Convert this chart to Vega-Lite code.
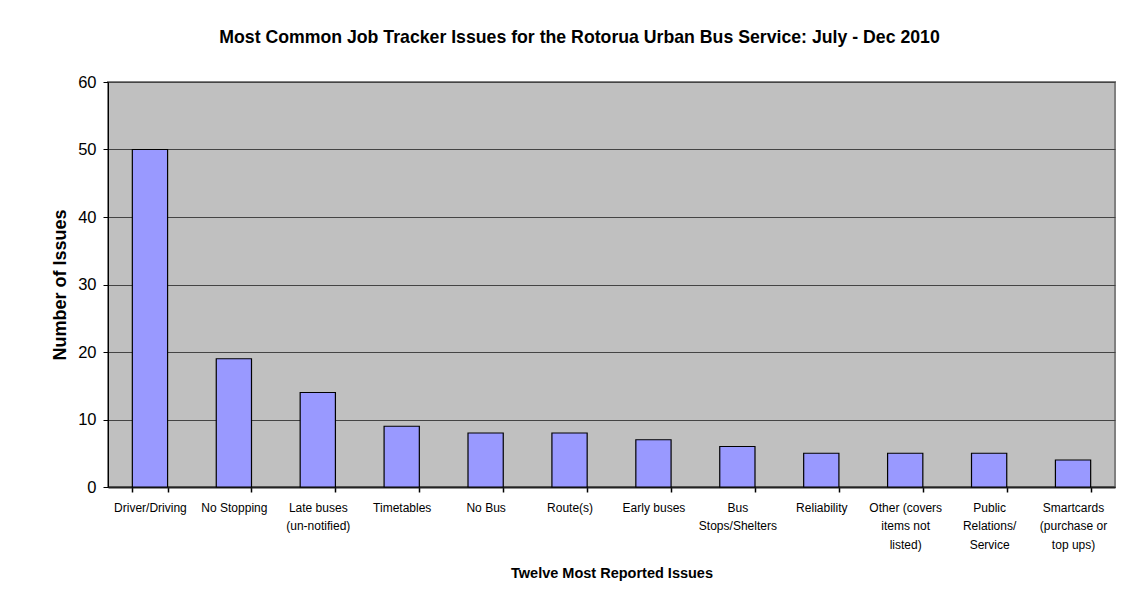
{
  "$schema": "https://vega.github.io/schema/vega-lite/v6.json",
  "autosize": {"type": "none"},
  "width": 1007,
  "height": 405,
  "padding": {"left": 108, "top": 82, "right": 28, "bottom": 106},
  "background": "white",
  "title": {
    "text": "Most Common Job Tracker Issues for the Rotorua Urban Bus Service: July - Dec 2010",
    "font": "Liberation Sans",
    "fontSize": 17.7,
    "fontWeight": "bold",
    "color": "black",
    "anchor": "middle",
    "frame": "group",
    "baseline": "alphabetic",
    "offset": 13,
    "dx": -32
  },
  "data": {
    "values": [
      {"issue": "Driver/Driving", "count": 50},
      {"issue": "No Stopping", "count": 19},
      {"issue": "Late buses\n(un-notified)", "count": 14},
      {"issue": "Timetables", "count": 9},
      {"issue": "No Bus", "count": 8},
      {"issue": "Route(s)", "count": 8},
      {"issue": "Early buses", "count": 7},
      {"issue": "Bus\nStops/Shelters", "count": 6},
      {"issue": "Reliability", "count": 5},
      {"issue": "Other (covers\nitems not\nlisted)", "count": 5},
      {"issue": "Public\nRelations/\nService", "count": 5},
      {"issue": "Smartcards\n(purchase or\ntop ups)", "count": 4}
    ]
  },
  "mark": {"type": "bar", "color": "#9999FF", "stroke": "black", "strokeWidth": 1.2},
  "encoding": {
    "x": {
      "field": "issue",
      "type": "nominal",
      "sort": null,
      "scale": {"paddingInner": 0.58, "paddingOuter": 0.29},
      "axis": {
        "title": "Twelve Most Reported Issues",
        "titleFont": "Liberation Sans",
        "titleFontSize": 14.5,
        "titleFontWeight": "bold",
        "titleColor": "black",
        "titleBaseline": "alphabetic",
        "titleY": 90,
        "labelExpr": "split(datum.label, '\\n')",
        "labelFont": "Liberation Sans",
        "labelFontSize": 12,
        "labelColor": "black",
        "labelAngle": 0,
        "labelLineHeight": 18.3,
        "labelBaseline": "alphabetic",
        "labelPadding": 19.7,
        "ticks": true,
        "tickBand": "extent",
        "tickSize": 5,
        "tickWidth": 1.5,
        "tickOpacity": 1,
        "tickColor": "black",
        "domainColor": "#222222",
        "domainWidth": 2,
        "grid": false
      }
    },
    "y": {
      "field": "count",
      "type": "quantitative",
      "scale": {"domain": [0, 60], "nice": false},
      "axis": {
        "title": "Number of Issues",
        "titleFont": "Liberation Sans",
        "titleFontSize": 18,
        "titleFontWeight": "bold",
        "titleColor": "black",
        "titleAngle": -90,
        "titleAlign": "center",
        "titleBaseline": "alphabetic",
        "titleX": -43,
        "titleY": 202.5,
        "values": [0, 10, 20, 30, 40, 50, 60],
        "labelFont": "Liberation Sans",
        "labelFontSize": 16.5,
        "labelColor": "black",
        "labelPadding": 7,
        "tickSize": 5,
        "tickColor": "black",
        "domainColor": "black",
        "domainWidth": 1,
        "grid": true,
        "gridColor": "#444444",
        "gridWidth": 1
      }
    }
  },
  "config": {
    "view": {"fill": "#C0C0C0", "stroke": "#808080", "strokeWidth": 2}
  }
}
